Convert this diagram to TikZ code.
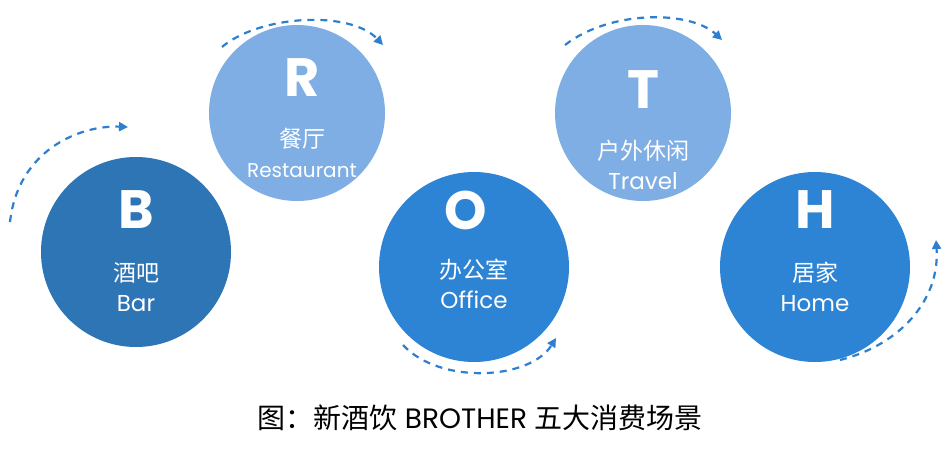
\documentclass[tikz,border=0pt]{standalone}
\usepackage{fontspec}
\setmainfont{Poppins}
\newfontfamily\cjk{Noto Sans CJK SC}
\usetikzlibrary{arrows.meta}
\definecolor{cdark}{HTML}{2E75B6}
\definecolor{cmid}{HTML}{2E84D4}
\definecolor{clight}{HTML}{7EAEE3}
\definecolor{carc}{HTML}{2E7FD0}
\begin{document}
\begin{tikzpicture}[x=1pt,y=-1pt,
  circ/.style={circle,minimum size=#1,inner sep=0pt},
  big/.style={text=white,font=\fontsize{54}{56}\selectfont\bfseries},
  lab/.style={text=white,align=center,font=\fontsize{23}{30}\selectfont},
  arcl/.style={carc,line width=2.2pt,dash pattern=on 7pt off 6pt,-{Triangle[length=9pt,width=9pt]}}]
\useasboundingbox[fill=white] (0,0) rectangle (943,450);
\node[circ=190pt,fill=cdark] (b) at (136,252) {};
\node[circ=176pt,fill=clight] (r) at (297,113) {};
\node[circ=190pt,fill=cmid] (o) at (474,267) {};
\node[circ=176pt,fill=clight] (t) at (643,113) {};
\node[circ=190pt,fill=cmid] (h) at (815,267) {};
\node[big] (bl) at (136,210) {B};
\node[lab] (bt) at (136,287) {{\cjk 酒吧}\\Bar};
\node[big] (rl) at (302,78) {R};
\node[lab,font=\fontsize{20}{30}\selectfont] (rt) at (302,153) {{\fontsize{23}{30}\selectfont\cjk 餐厅}\\Restaurant};
\node[big] (ol) at (466,210) {O};
\node[lab] (ot) at (474,284) {{\cjk 办公室}\\Office};
\node[big] (tl) at (643,90) {T};
\node[lab] (tt) at (643,165) {{\cjk 户外休闲}\\Travel};
\node[big] (hl) at (815,210) {H};
\node[lab] (ht) at (815,287) {{\cjk 居家}\\Home};
\coordinate (a1s) at (10,222); \coordinate (a1e) at (128,127);
\coordinate (a2s) at (222,47); \coordinate (a2e) at (383,45);
\coordinate (a3s) at (403,345); \coordinate (a3e) at (556,338);
\coordinate (a4s) at (565,45); \coordinate (a4e) at (722,40);
\coordinate (a5s) at (840,360); \coordinate (a5e) at (936,240);
\draw[arcl] (a1s) .. controls (18,150) and (80,125) .. (a1e);
\draw[arcl] (a2s) .. controls (260,15) and (350,10) .. (a2e);
\draw[arcl] (a3s) .. controls (440,385) and (530,380) .. (a3e);
\draw[arcl] (a4s) .. controls (610,10) and (690,10) .. (a4e);
\draw[arcl] (a5s) .. controls (900,345) and (940,300) .. (a5e);
\node[font=\fontsize{28}{30}\selectfont] (cap) at (480,418) {{\cjk 图：新酒饮} BROTHER {\cjk 五大消费场景}};
\end{tikzpicture}
\end{document}
